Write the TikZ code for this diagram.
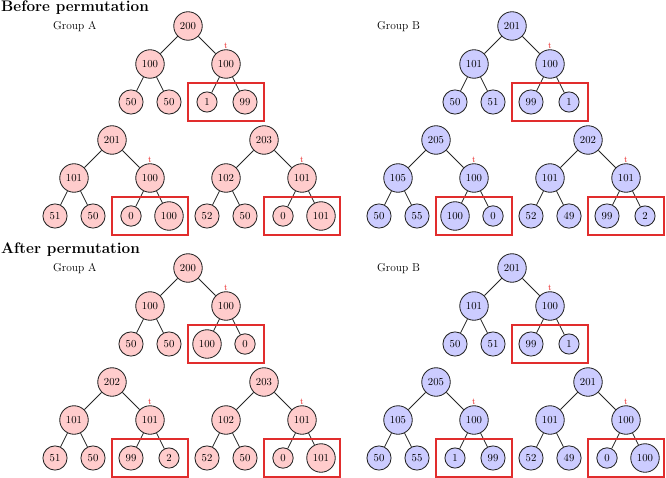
\documentclass[tikz,border=0pt]{standalone}
\usepackage{tikz}
\definecolor{boxred}{RGB}{225,45,45}
\definecolor{pinkfill}{RGB}{255,204,204}
\definecolor{bluefill}{RGB}{204,204,255}
\definecolor{tred}{RGB}{235,40,40}
\tikzset{
  basenode/.style={circle, draw=black!85, line width=0.85pt, inner sep=4pt,
    font=\fontsize{10.7}{12}\selectfont},
  pnode/.style={basenode, fill=pinkfill},
  bnode/.style={basenode, fill=bluefill},
  tmark/.style={label={[text=tred, font=\fontsize{9}{10}\selectfont, inner sep=0.3pt, label distance=0.5pt]above:t}},
  edge/.style={draw=black!85, line width=0.85pt},
  redbox/.style={draw=boxred, line width=1.6pt},
  titletext/.style={anchor=base west, inner sep=0pt, font=\fontsize{15.3}{18}\selectfont\bfseries},
  grouptext/.style={anchor=base west, inner sep=0pt, font=\fontsize{11.4}{13}\selectfont},
}
\newcommand\mktree[7]{%
  \node[#4] (#1) at (#2,#3) {#5};
  \node[#4] (#1l) at ([shift={(-38,38)}]#1.center) {#6};
  \node[#4,tmark] (#1r) at ([shift={(38,38)}]#1.center) {#7};
  \draw[edge] (#1) -- (#1l);
  \draw[edge] (#1) -- (#1r);
}
\newcommand\mkleaves[6]{%
  \node[#2] (#1ll) at ([shift={(-19,38)}]#1l.center) {#3};
  \node[#2] (#1lr) at ([shift={(19,38)}]#1l.center) {#4};
  \node[#2] (#1rl) at ([shift={(-19,38)}]#1r.center) {#5};
  \node[#2] (#1rr) at ([shift={(19,38)}]#1r.center) {#6};
  \draw[edge] (#1l) -- (#1ll);
  \draw[edge] (#1l) -- (#1lr);
  \draw[edge] (#1r) -- (#1rl);
  \draw[edge] (#1r) -- (#1rr);
  \draw[redbox] ([shift={(-38,19)}]#1r.center) rectangle ([shift={(38,57)}]#1r.center);
}
\begin{document}
\begin{tikzpicture}[x=1pt, y=-1pt]
\useasboundingbox (0,0) rectangle (666,478);
% titles
\node[titletext] (tb) at (1,12) {Before permutation};
\node[titletext] (ta) at (1,254) {After permutation};
\node[grouptext] (gba) at (53,30) {Group A};
\node[grouptext] (gbb) at (377,30) {Group B};
\node[grouptext] (gaa) at (53,272) {Group A};
\node[grouptext] (gab) at (377,272) {Group B};
% Before, group A
\mktree{Aa}{188}{26}{pnode}{200}{100}{100}
\mkleaves{Aa}{pnode}{50}{50}{1}{99}
\mktree{Ab}{112}{140}{pnode}{201}{101}{100}
\mkleaves{Ab}{pnode}{51}{50}{0}{100}
\mktree{Ac}{264}{140}{pnode}{203}{102}{101}
\mkleaves{Ac}{pnode}{52}{50}{0}{101}
% Before, group B
\mktree{Ba}{512}{26}{bnode}{201}{101}{100}
\mkleaves{Ba}{bnode}{50}{51}{99}{1}
\mktree{Bb}{436}{140}{bnode}{205}{105}{100}
\mkleaves{Bb}{bnode}{50}{55}{100}{0}
\mktree{Bc}{588}{140}{bnode}{202}{101}{101}
\mkleaves{Bc}{bnode}{52}{49}{99}{2}
% After, group A
\mktree{Ca}{188}{268}{pnode}{200}{100}{100}
\mkleaves{Ca}{pnode}{50}{50}{100}{0}
\mktree{Cb}{112}{382}{pnode}{202}{101}{101}
\mkleaves{Cb}{pnode}{51}{50}{99}{2}
\mktree{Cc}{264}{382}{pnode}{203}{102}{101}
\mkleaves{Cc}{pnode}{52}{50}{0}{101}
% After, group B
\mktree{Da}{512}{268}{bnode}{201}{101}{100}
\mkleaves{Da}{bnode}{50}{51}{99}{1}
\mktree{Db}{436}{382}{bnode}{205}{105}{100}
\mkleaves{Db}{bnode}{50}{55}{1}{99}
\mktree{Dc}{588}{382}{bnode}{201}{101}{100}
\mkleaves{Dc}{bnode}{52}{49}{0}{100}
\end{tikzpicture}
\end{document}
